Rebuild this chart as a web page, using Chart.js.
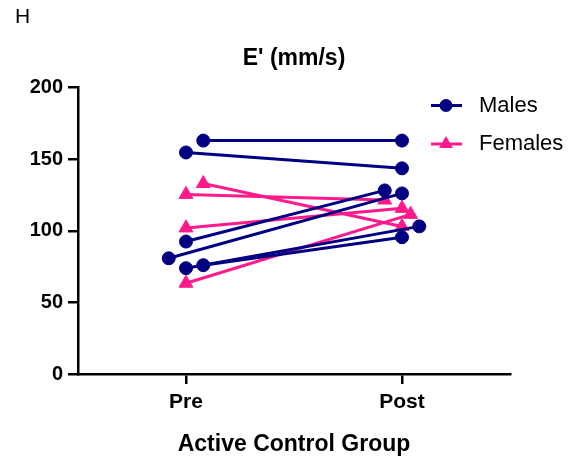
<!DOCTYPE html>
<html>
<head>
<meta charset="utf-8">
<script src="https://cdn.jsdelivr.net/npm/chart.js@4.4.1/dist/chart.umd.min.js"></script>
<style>
  body { margin: 0; background: #fff; }
  canvas { display: block; }
</style>
</head>
<body>
<canvas id="chart" width="569" height="462"></canvas>
<script>
// E' (mm/s), active control group, each subject pre -> post
const categories = ['Pre', 'Post'];
const malesPre = [163, 154.7, 92.5, 80.8, 73.9, 76];
const malesPost = [163, 143.6, 128.2, 126.1, 103.1, 95.5];
const malesPreJitter = [0.08, 0, 0, -0.08, 0, 0.08];
const malesPostJitter = [0, 0, -0.08, 0, 0.08, 0];
const femalesPre = [133, 125.4, 102, 63.4];
const femalesPost = [103, 121.5, 115.7, 111.5];
const femalesPreJitter = [0.08, 0, 0, 0];
const femalesPostJitter = [0, -0.08, 0, 0.04];
const yTicks = [0, 50, 100, 150, 200];

const NAVY = '#000080';
const PINK = '#ff1a8c';
const FONT = "'Liberation Sans', Arial, sans-serif";

const groups = [
  { label: 'Males', color: NAVY, style: 'circle', radius: 6.5,
    pre: malesPre, post: malesPost, preJ: malesPreJitter, postJ: malesPostJitter },
  { label: 'Females', color: PINK, style: 'triangle', radius: 8,
    pre: femalesPre, post: femalesPost, preJ: femalesPreJitter, postJ: femalesPostJitter },
];

const datasets = [];
groups.forEach((g) => {
  g.pre.forEach((v, i) => {
    datasets.push({
      label: g.label,
      data: [
        { x: 1 + g.preJ[i], y: v },
        { x: 2 + g.postJ[i], y: g.post[i] },
      ],
      borderColor: g.color,
      borderWidth: 3,
      pointStyle: g.style,
      pointRadius: g.radius,
      pointBackgroundColor: g.color,
      pointBorderColor: g.color,
      pointBorderWidth: 1,
    });
  });
});

function drawMarker(ctx, style, x, y, r) {
  ctx.beginPath();
  if (style === 'circle') {
    ctx.arc(x, y, r, 0, Math.PI * 2);
  } else {
    for (let k = 0; k < 3; k++) {
      const a = k * 2 * Math.PI / 3;
      const px = x + Math.sin(a) * r;
      const py = y - Math.cos(a) * r;
      if (k === 0) ctx.moveTo(px, py); else ctx.lineTo(px, py);
    }
    ctx.closePath();
  }
  ctx.fill();
}

const extras = {
  id: 'extras',
  afterDraw(chart) {
    const ctx = chart.ctx;
    ctx.save();
    // panel letter
    ctx.fillStyle = '#000';
    ctx.font = '21px ' + FONT;
    ctx.textAlign = 'left';
    ctx.textBaseline = 'alphabetic';
    ctx.fillText('H', 15, 23);
    // legend
    ctx.font = '22px ' + FONT;
    ctx.textBaseline = 'middle';
    groups.forEach((g, i) => {
      const y = 105.5 + i * 38.5;
      ctx.strokeStyle = g.color;
      ctx.fillStyle = g.color;
      ctx.lineWidth = 3;
      ctx.beginPath();
      ctx.moveTo(431, y);
      ctx.lineTo(462, y);
      ctx.stroke();
      drawMarker(ctx, g.style, 446, y, g.radius);
      ctx.fillStyle = '#000';
      ctx.fillText(g.label, 479, y);
    });
    ctx.restore();
  },
};

new Chart(document.getElementById('chart'), {
  type: 'line',
  data: { datasets },
  plugins: [extras],
  options: {
    responsive: false,
    animation: false,
    layout: { padding: { left: 0, right: 59, top: 0, bottom: 0 } },
    plugins: {
      legend: { display: false },
      tooltip: { enabled: false },
      title: {
        display: true,
        text: "E' (mm/s)",
        fullSize: false,
        color: '#000',
        font: { family: FONT, size: 23, weight: 'bold' },
        padding: { top: 45, bottom: 15 },
      },
    },
    scales: {
      x: {
        type: 'linear',
        min: 0.5,
        max: 2.5,
        afterBuildTicks: (s) => { s.ticks = categories.map((c, i) => ({ value: i + 1 })); },
        afterFit: (s) => { s.height = 88; },
        ticks: {
          autoSkip: false,
          color: '#000',
          padding: 6,
          font: { family: FONT, size: 21, weight: 'bold' },
          callback: (v) => categories[v - 1],
        },
        grid: { drawOnChartArea: false, color: '#000', lineWidth: 2.5, tickLength: 10 },
        border: { color: '#000', width: 2.5 },
        title: {
          display: true,
          text: 'Active Control Group',
          color: '#000',
          font: { family: FONT, size: 23, weight: 'bold' },
          padding: { top: 0, bottom: 4 },
        },
      },
      y: {
        min: 0,
        max: 200,
        afterBuildTicks: (s) => { s.ticks = yTicks.map((v) => ({ value: v })); },
        afterFit: (s) => { s.width = 78; },
        ticks: {
          color: '#000',
          padding: 5,
          font: { family: FONT, size: 20, weight: 'bold' },
        },
        grid: { drawOnChartArea: false, color: '#000', lineWidth: 2.5, tickLength: 10 },
        border: { color: '#000', width: 2.5 },
      },
    },
  },
});
</script>
</body>
</html>
